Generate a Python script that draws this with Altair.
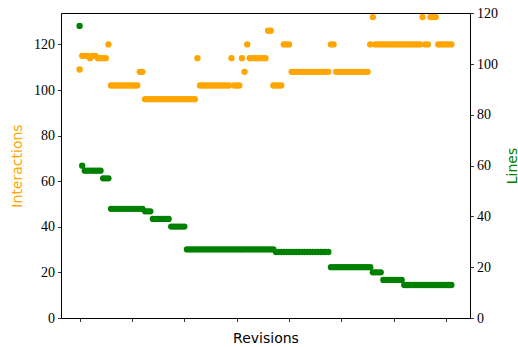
import altair as alt
import pandas as pd

# Interactions (left axis) and line counts (right axis) for each revision
interactions = [
    109, 115, 115, 115, 114, 115, 115, 114, 114, 114,
    114, 120, 102, 102, 102, 102, 102, 102, 102, 102,
    102, 102, 102, 108, 108, 96, 96, 96, 96, 96,
    96, 96, 96, 96, 96, 96, 96, 96, 96, 96,
    96, 96, 96, 96, 96, 114, 102, 102, 102, 102,
    102, 102, 102, 102, 102, 102, 102, 102, 114, 102,
    102, 102, 114, 108, 120, 114, 114, 114, 114, 114,
    114, 114, 126, 126, 102, 102, 102, 102, 120, 120,
    120, 108, 108, 108, 108, 108, 108, 108, 108, 108,
    108, 108, 108, 108, 108, 108, 120, 120, 108, 108,
    108, 108, 108, 108, 108, 108, 108, 108, 108, 108,
    108, 120, 132, 120, 120, 120, 120, 120, 120, 120,
    120, 120, 120, 120, 120, 120, 120, 120, 120, 120,
    120, 132, 120, 120, 132, 132, 132, 120, 120, 120,
    120, 120, 120,
]

lines = [
    115, 60, 58, 58, 58, 58, 58, 58, 58, 55,
    55, 55, 43, 43, 43, 43, 43, 43, 43, 43,
    43, 43, 43, 43, 43, 42, 42, 42, 39, 39,
    39, 39, 39, 39, 39, 36, 36, 36, 36, 36,
    36, 27, 27, 27, 27, 27, 27, 27, 27, 27,
    27, 27, 27, 27, 27, 27, 27, 27, 27, 27,
    27, 27, 27, 27, 27, 27, 27, 27, 27, 27,
    27, 27, 27, 27, 27, 26, 26, 26, 26, 26,
    26, 26, 26, 26, 26, 26, 26, 26, 26, 26,
    26, 26, 26, 26, 26, 26, 20, 20, 20, 20,
    20, 20, 20, 20, 20, 20, 20, 20, 20, 20,
    20, 20, 18, 18, 18, 18, 15, 15, 15, 15,
    15, 15, 15, 15, 13, 13, 13, 13, 13, 13,
    13, 13, 13, 13, 13, 13, 13, 13, 13, 13,
    13, 13, 13,
]

x_ticks = [0, 20, 40, 60, 80, 100, 120, 140]
y_ticks = [0, 20, 40, 60, 80, 100, 120]

df = pd.DataFrame({
    "revision": list(range(len(interactions))),
    "interactions": interactions,
    "lines": lines,
})

ORANGE = "#FFA500"
GREEN = "#008000"
SERIF = "Liberation Serif"
SANS = "DejaVu Sans"

x_enc = alt.X(
    "revision:Q",
    scale=alt.Scale(domain=[-7.1, 149.1], nice=False, zero=False),
    axis=alt.Axis(
        values=x_ticks, labels=False, grid=False, domain=False,
        tickSize=3.5, tickWidth=0.8, tickColor="black",
        title="Revisions", titleFont=SANS, titleFontSize=14,
        titleFontWeight="normal", titleColor="black",
        titleX=204.5, titleY=24.5, titleBaseline="alphabetic",
    ),
)

left = alt.Chart(df).mark_circle(size=40, opacity=1, color=ORANGE).encode(
    x=x_enc,
    y=alt.Y(
        "interactions:Q",
        scale=alt.Scale(domain=[0, 133.8], nice=False, zero=False),
        axis=alt.Axis(
            orient="left", values=y_ticks, grid=False, domain=False,
            tickSize=3.5, tickWidth=0.8, tickColor="black",
            labelFont=SERIF, labelFontSize=14, labelColor="black", labelPadding=3,
            title="Interactions", titleFont=SANS, titleFontSize=14,
            titleFontWeight="normal", titleColor=ORANGE,
            titleAngle=270, titleX=-44, titleY=152.5,
            titleAlign="center", titleBaseline="middle",
        ),
    ),
)

right = alt.Chart(df).mark_circle(size=40, opacity=1, color=GREEN).encode(
    x=x_enc,
    y=alt.Y(
        "lines:Q",
        scale=alt.Scale(domain=[0, 120.1], nice=False, zero=False),
        axis=alt.Axis(
            orient="right", values=y_ticks, grid=False, domain=False,
            tickSize=3.5, tickWidth=0.8, tickColor="black",
            labelFont=SERIF, labelFontSize=14, labelColor="black", labelPadding=3,
            title="Lines", titleFont=SANS, titleFontSize=14,
            titleFontWeight="normal", titleColor=GREEN,
            titleAngle=270, titleX=42, titleY=152.5,
            titleAlign="center", titleBaseline="middle",
        ),
    ),
)

chart = (
    alt.layer(left, right)
    .resolve_scale(y="independent")
    .properties(
        width=409,
        height=305,
        autosize=alt.AutoSizeParams(type="none"),
        padding={"left": 61, "top": 13, "right": 48, "bottom": 29},
        background="white",
    )
    .configure_view(stroke="black", strokeWidth=1)
)

chart.save("out.html", embed_options={"renderer": "svg", "actions": False})
